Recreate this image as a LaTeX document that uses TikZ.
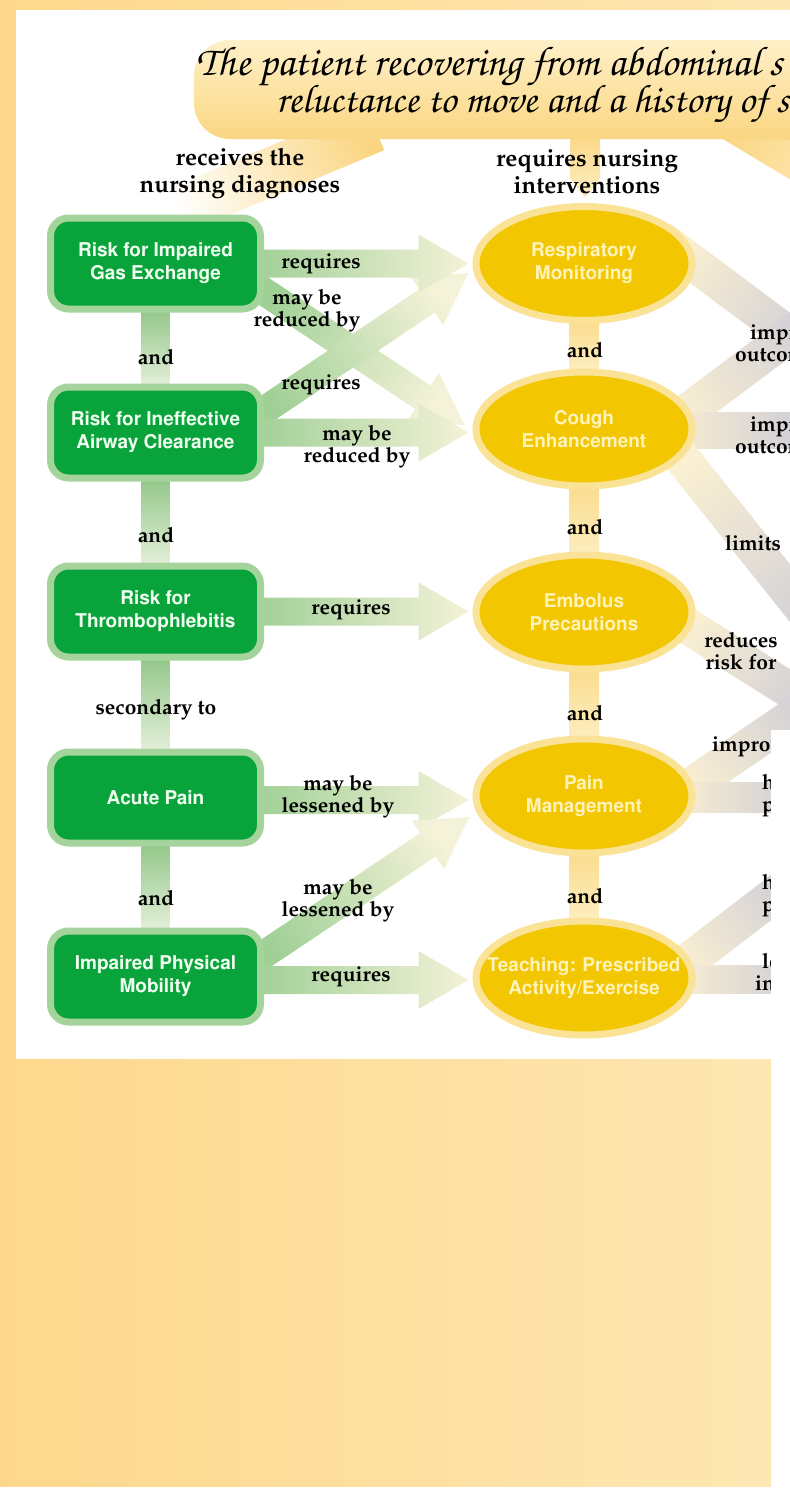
\documentclass[tikz,border=0pt]{standalone}
\usepackage[T1]{fontenc}
\usetikzlibrary{calc,shapes.geometric}
\pgfdeclarelayer{bg}
\pgfdeclarelayer{fg}
\pgfsetlayers{bg,main,fg}
\definecolor{bgL}{RGB}{253,216,140}
\definecolor{bgR}{RGB}{254,231,180}
\definecolor{gfill}{RGB}{8,163,58}
\definecolor{gline}{RGB}{164,212,156}
\definecolor{gtext}{RGB}{240,255,240}
\definecolor{yfill}{RGB}{242,198,0}
\definecolor{yline}{RGB}{250,226,150}
\definecolor{ytext}{RGB}{255,243,185}
\definecolor{garA}{RGB}{160,208,150}
\definecolor{garB}{RGB}{244,242,216}
\definecolor{gyA}{RGB}{251,240,210}
\definecolor{gyB}{RGB}{200,200,215}
\definecolor{banTop}{RGB}{255,240,200}
\definecolor{banBot}{RGB}{250,214,130}
\definecolor{vyA}{RGB}{250,220,140}
\definecolor{vyB}{RGB}{253,238,195}
\definecolor{vgA}{RGB}{150,200,140}
\definecolor{vgB}{RGB}{225,238,215}
\newcommand\lblfont{\fontfamily{ppl}\fontseries{b}\fontshape{n}\selectfont}
\newcommand\boxfont{\fontfamily{phv}\fontseries{b}\fontshape{n}\selectfont}
\newcommand\ttlfont{\fontfamily{pzc}\fontseries{mb}\fontshape{it}\selectfont}
\newcommand\widearrow[4]{%
  \path (#1); \pgfgetlastxy{\wax}{\way}%
  \path (#2); \pgfgetlastxy{\wbx}{\wby}%
  \pgfmathsetmacro\wang{atan2(\wby-\way,\wbx-\wax)+90}%
  \coordinate (wH) at ($(#2)!50pt!(#1)$);%
  \shade[left color=#3, right color=#4, shading angle=\wang]
    ($(#1)!14pt!90:(#2)$) -- ($(wH)!14pt!90:(#2)$) -- ($(wH)!29pt!90:(#2)$) -- (#2)
    -- ($(wH)!29pt!-90:(#2)$) -- ($(wH)!14pt!-90:(#2)$) -- ($(#1)!14pt!-90:(#2)$) -- cycle;%
}
\newcommand\wideband[5]{%
  \path (#1); \pgfgetlastxy{\wax}{\way}%
  \path (#2); \pgfgetlastxy{\wbx}{\wby}%
  \pgfmathsetmacro\wang{atan2(\wby-\way,\wbx-\wax)+90}%
  \shade[left color=#4, right color=#5, shading angle=\wang]
    ($(#1)!#3!90:(#2)$) -- ($(#2)!#3!-90:(#1)$) -- ($(#2)!#3!90:(#1)$) -- ($(#1)!#3!-90:(#2)$) -- cycle;%
}
\tikzset{
  dx/.style={rectangle, rounded corners=18pt, fill=gfill, draw=gline, line width=7pt,
    minimum width=210pt, minimum height=91pt, inner sep=0pt, align=center, text=gtext,
    font=\boxfont\fontsize{19}{23}\selectfont},
  iv/.style={ellipse, fill=yfill, draw=yline, line width=7pt, minimum width=216pt,
    minimum height=114pt, inner sep=0pt},
  ivt/.style={align=center, text=ytext, inner sep=0pt, font=\boxfont\fontsize{19}{23}\selectfont},
  lbl/.style={align=center, inner sep=0pt, text=black, font=\lblfont\fontsize{21}{22}\selectfont},
  hdr/.style={align=center, inner sep=0pt, text=black, font=\lblfont\fontsize{24}{27}\selectfont},
  ttl/.style={inner sep=0pt, text=black, font=\ttlfont\fontsize{41.5}{37}\selectfont},
}
\begin{document}
\begin{tikzpicture}[x=1pt,y=-1pt]
\useasboundingbox (0,0) rectangle (790,1492);
% ---------- title ----------
\node[ttl, anchor=base west] (title1) at (196,75) {The patient recovering from abdominal s};
\node[ttl, anchor=base west, font=\ttlfont\fontsize{40}{37}\selectfont] (title2) at (276,112) {reluctance to move and a history of s};
% ---------- headers ----------
\node[hdr] (h1) at (240,173) {receives the\\nursing diagnoses};
\node[hdr] (h2) at (587,172) {requires nursing\\interventions};
% ---------- diagnoses ----------
\node[dx] (b1) at (155.5,263.5) {Risk for Impaired\\Gas Exchange};
\node[dx] (b2) at (155.5,432.5) {Risk for Ineffective\\Airway Clearance};
\node[dx] (b3) at (155.5,611.5) {Risk for\\Thrombophlebitis};
\node[dx] (b4) at (155.5,797.5) {Acute Pain};
\node[dx] (b5) at (155.5,976.5) {Impaired Physical\\Mobility};
% ---------- interventions ----------
\node[iv] (e1) at (584,263.5) {};
\node[iv] (e2) at (584,429) {};
\node[iv] (e3) at (584,612) {};
\node[iv] (e4) at (584,796) {};
\node[iv] (e5) at (584,978) {};
\node[ivt] (e1t) at (e1) {Respiratory\\Monitoring};
\node[ivt] (e2t) at (e2) {Cough\\Enhancement};
\node[ivt] (e3t) at (e3) {Embolus\\Precautions};
\node[ivt] (e4t) at (e4) {Pain\\Management};
\node[ivt] (e5t) at (e5) {Teaching: Prescribed\\Activity/Exercise};
% ---------- labels ----------
\node[lbl] (l1) at (321,264) {requires};
\node[lbl] (l2) at (307,311) {may be\\reduced by};
\node[lbl] (l3) at (156,357) {and};
\node[lbl] (l4) at (321,385) {requires};
\node[lbl] (l5) at (357,447) {may be\\reduced by};
\node[lbl] (l6) at (156,535) {and};
\node[lbl] (l7) at (351,610) {requires};
\node[lbl] (l8) at (156,710) {secondary to};
\node[lbl] (l9) at (338,797) {may be\\lessened by};
\node[lbl] (l10) at (156,898) {and};
\node[lbl] (l11) at (338,901) {may be\\lessened by};
\node[lbl] (l12) at (351,977) {requires};
\node[lbl] (a1) at (585,350) {and};
\node[lbl] (a2) at (585,527) {and};
\node[lbl] (a3) at (585,713) {and};
\node[lbl] (a4) at (585,896) {and};
\node[lbl, anchor=base west] (r1) at (750,339) {impro};
\node[lbl, anchor=base west] (r2) at (735,361) {outcom};
\node[lbl, anchor=base west] (r3) at (750,431) {impro};
\node[lbl, anchor=base west] (r4) at (735,453) {outcom};
\node[lbl] (r5) at (753,543) {limits};
\node[lbl] (r6) at (741,651) {reduces\\risk for};
\node[lbl, anchor=base west] (r7) at (712,751) {improve};
\node[lbl, anchor=base west] (r8) at (762,789) {he};
\node[lbl, anchor=base west] (r9) at (762,811) {pr};
\node[lbl, anchor=base west] (r10) at (762,889) {he};
\node[lbl, anchor=base west] (r11) at (762,911) {pr};
\node[lbl, anchor=base west] (r12) at (762,968) {le};
\node[lbl, anchor=base west] (r13) at (755,990) {in};
% ---------- free ends ----------
\coordinate (g1a) at ($(e1)+(76,-25.5)$);  \coordinate (g1b) at (850,380);
\coordinate (g2a) at ($(e2)+(76,3)$);      \coordinate (g2b) at (850,290);
\coordinate (g3a) at ($(e2)+(76,1)$);      \coordinate (g3b) at (830,430);
\coordinate (g4a) at ($(e2)+(77,3)$);      \coordinate (g4b) at (870,693);
\coordinate (g5a) at ($(e3)+(86,3)$);      \coordinate (g5b) at (850,728);
\coordinate (g6a) at ($(e4)+(86,4)$);      \coordinate (g6b) at (850,677);
\coordinate (g7a) at ($(e4)+(86,1)$);      \coordinate (g7b) at (820,797);
\coordinate (g8a) at ($(e5)+(86,-3)$);     \coordinate (g8b) at (820,860);
\coordinate (g9a) at ($(e5)+(86,1)$);      \coordinate (g9b) at (820,979);
\coordinate (t1) at ($(b1.east)+(-10,0)$);  \coordinate (p1) at ($(b1.east -| e1.west)+(-4,0)$);
\coordinate (t2) at ($(b1.east)+(-12,20)$); \coordinate (p2) at ($(e2.west)+(-8,-4)$);
\coordinate (t3) at ($(b2.east)+(-12,-14)$);\coordinate (p3) at ($(e1.west)+(-4,9.5)$);
\coordinate (t4) at ($(b2.east)+(-10,0)$);  \coordinate (p4) at ($(b2.east -| e2.west)+(-4,0)$);
\coordinate (t5) at ($(b3.east)+(-10,0)$);  \coordinate (p5) at ($(b3.east -| e3.west)+(-4,0)$);
\coordinate (t6) at ($(b4.east)+(-10,2.5)$);\coordinate (p6) at ($(b4.east -| e4.west)+(-4,2.5)$);
\coordinate (t7) at ($(b5.east)+(-12,-14)$);\coordinate (p7) at ($(e4.west)+(-3,21)$);
\coordinate (t8) at ($(b5.east)+(-10,3.5)$);\coordinate (p8) at ($(b5.east -| e5.west)+(-4,3.5)$);
\begin{pgfonlayer}{bg}
  \shade[left color=bgL, right color=bgR] (0,0) rectangle (790,1492);
  \fill[white] (16,10) rectangle (790,1059);
  % banner with its pointers
  \wideband{375,128}{165,216}{24pt}{banBot}{white}
  \shade[top color=banBot, bottom color=vyB] (570,130) -- (600,130) -- (600,178) -- (585,198) -- (570,178) -- cycle;
  \wideband{730,120}{830,180}{20pt}{banBot}{bgR}
  \shade[top color=banTop, bottom color=banBot, rounded corners=36pt] (194,40) rectangle (840,139);
  % vertical connectors
  \shade[top color=vgA, bottom color=vgB] ($(b1.south)+(-14,0)$) rectangle ($(b2.north)+(14,0)$);
  \shade[top color=vgA, bottom color=vgB] ($(b2.south)+(-14,0)$) rectangle ($(b3.north)+(14,0)$);
  \shade[top color=vgA, bottom color=vgB] ($(b3.south)+(-14,0)$) rectangle ($(b4.north)+(14,0)$);
  \shade[top color=vgA, bottom color=vgB] ($(b4.south)+(-14,0)$) rectangle ($(b5.north)+(14,0)$);
  \shade[top color=vyA, bottom color=vyB] ($(e1.south)+(-15,-6)$) rectangle ($(e2.north)+(15,6)$);
  \shade[top color=vyA, bottom color=vyB] ($(e2.south)+(-15,-6)$) rectangle ($(e3.north)+(15,6)$);
  \shade[top color=vyA, bottom color=vyB] ($(e3.south)+(-15,-6)$) rectangle ($(e4.north)+(15,6)$);
  \shade[top color=vyA, bottom color=vyB] ($(e4.south)+(-15,-6)$) rectangle ($(e5.north)+(15,6)$);
  % outgoing grey bands
  \wideband{g1a}{g1b}{18pt}{gyA}{gyB}
  \wideband{g2a}{g2b}{18pt}{gyA}{gyB}
  \wideband{g3a}{g3b}{18pt}{gyA}{gyB}
  \wideband{g4a}{g4b}{18pt}{gyA}{gyB}
  \wideband{g5a}{g5b}{18pt}{gyA}{gyB}
  \wideband{g6a}{g6b}{18pt}{gyA}{gyB}
  \wideband{g7a}{g7b}{15pt}{gyA}{gyB}
  \wideband{g8a}{g8b}{18pt}{gyA}{gyB}
  \wideband{g9a}{g9b}{14pt}{gyA}{gyB}
  % green arrows
  \widearrow{t2}{p2}{garA}{garB}
  \widearrow{t3}{p3}{garA}{garB}
  \widearrow{t1}{p1}{garA}{garB}
  \widearrow{t4}{p4}{garA}{garB}
  \widearrow{t5}{p5}{garA}{garB}
  \widearrow{t6}{p6}{garA}{garB}
  \widearrow{t7}{p7}{garA}{garB}
  \widearrow{t8}{p8}{garA}{garB}
\end{pgfonlayer}
\begin{pgfonlayer}{fg}
  \fill[white] (771,730) rectangle (790,1492);
  \fill[white] (0,1487) rectangle (790,1492);
\end{pgfonlayer}
\end{tikzpicture}
\end{document}
